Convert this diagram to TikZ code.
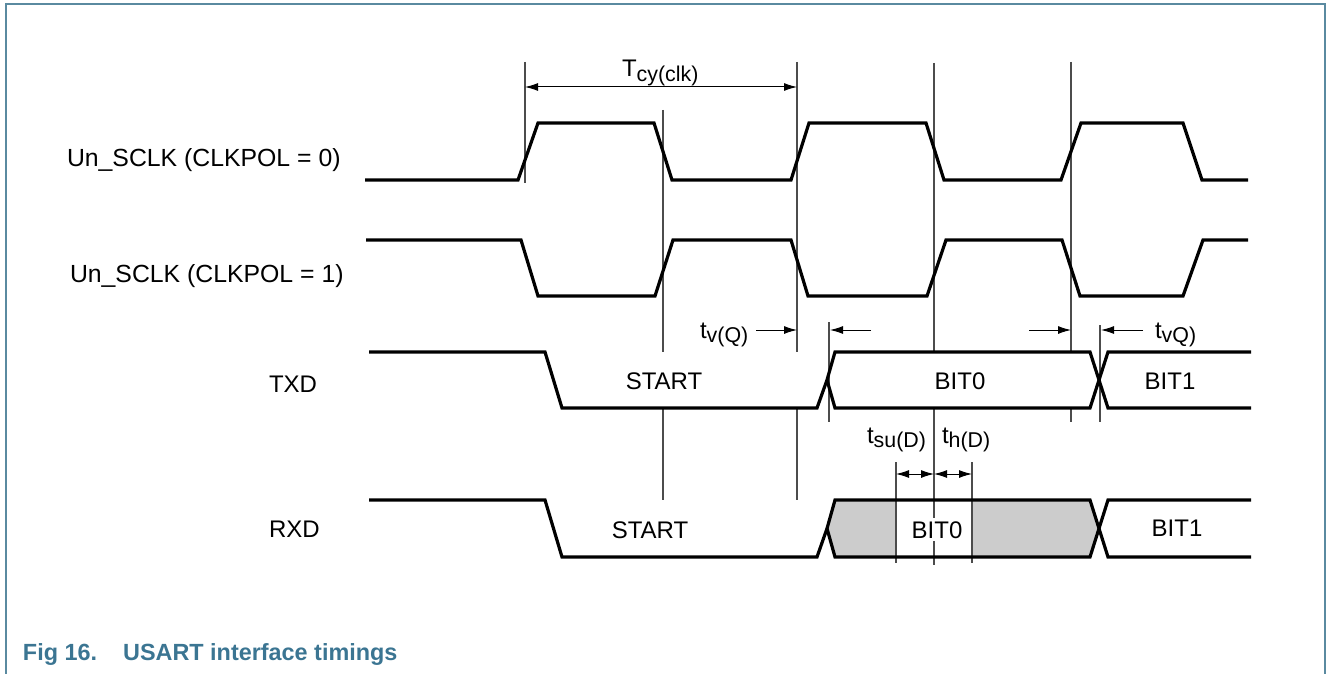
\documentclass[tikz,border=0pt]{standalone}
\usepackage{fontspec}
\setmainfont{Liberation Sans}
\usetikzlibrary{arrows.meta}
\definecolor{frameblue}{HTML}{5A8AA0}
\definecolor{capblue}{HTML}{3B7592}
\definecolor{rxdgray}{HTML}{CCCCCC}
\newcommand\sbs[1]{\raisebox{-0.2em}{\fontsize{10.7}{12}\selectfont #1}}
\tikzset{
  wave/.style={line width=1.6pt, black},
  guide/.style={line width=0.6pt, black!70},
  dim/.style={line width=0.5pt, black, -{Latex[length=6.5pt,width=4pt]}},
  dimboth/.style={line width=0.5pt, black, {Latex[length=6.5pt,width=4pt]}-{Latex[length=6.5pt,width=4pt]}},
  lbl/.style={inner sep=0pt, outer sep=0pt, anchor=base west, font=\fontsize{12}{14}\selectfont},
  lblc/.style={inner sep=0pt, outer sep=0pt, anchor=base, font=\fontsize{12}{14}\selectfont}
}
\begin{document}
\begin{tikzpicture}[x=0.5pt, y=-0.5pt]
\useasboundingbox (0,0) rectangle (1327,674);
% frame
\draw[frameblue, line width=1pt] (5.5,674) -- (5.5,4) -- (1325,4) -- (1325,674);

% RXD shaded region
\fill[rxdgray] (827,528.5) -- (835,500) -- (1090,500) -- (1099,528.5) -- (1090,557) -- (835,557) -- cycle;
\fill[white] (896,500) rectangle (972,557);

% guide lines
\draw[guide] (525,62) -- (525,183);
\draw[guide] (663,110) -- (663,352);
\draw[guide] (663,408) -- (663,500);
\draw[guide] (797,62) -- (797,352);
\draw[guide] (797,408) -- (797,500);
\draw[guide] (934,63) -- (934,352);
\draw[guide] (934,408) -- (934,565);
\draw[guide] (1071,62) -- (1071,352);
\draw[guide] (1071,408) -- (1071,422);
\draw[guide] (829,322) -- (829,422);
\draw[guide] (1100,325) -- (1100,422);
\draw[guide] (896,462) -- (896,563);
\draw[guide] (972,462) -- (972,563);

% clock CLKPOL = 0
\draw[wave] (365,180) -- (518,180) -- (538,123) -- (654,123) -- (672,180) -- (791,180) -- (809,123) -- (926,123) -- (944,180) -- (1061,180) -- (1081,123) -- (1183,123) -- (1202,180) -- (1248,180);
% clock CLKPOL = 1
\draw[wave] (366,240) -- (521,240) -- (538,296) -- (655,296) -- (673,240) -- (791,240) -- (808,296) -- (927,296) -- (946,240) -- (1062,240) -- (1080,296) -- (1183,296) -- (1203,240) -- (1248,240);

% TXD
\draw[wave] (369,352) -- (545,352) -- (562,408) -- (817,408) -- (827,380) -- (835,352) -- (1090,352) -- (1108,408) -- (1251,408);
\draw[wave] (827,380) -- (835,408) -- (1090,408) -- (1108,352) -- (1251,352);
% RXD
\draw[wave] (369,500) -- (545,500) -- (562,557) -- (817,557) -- (827,528.5) -- (835,500) -- (1090,500) -- (1108,557) -- (1251,557);
\draw[wave] (827,528.5) -- (835,557) -- (1090,557) -- (1108,500) -- (1251,500);

% dimension coordinates
\coordinate (tcyA) at (525,87);
\coordinate (tcyB) at (797,87);
\coordinate (tvA0) at (756,330);
\coordinate (tvA1) at (797,330);
\coordinate (tvB0) at (871,330);
\coordinate (tvB1) at (830,330);
\coordinate (tvC0) at (1029,330);
\coordinate (tvC1) at (1071,330);
\coordinate (tvD0) at (1143,330);
\coordinate (tvD1) at (1101,330);
\coordinate (suA) at (896,474);
\coordinate (suB) at (934,474);
\coordinate (hB) at (972,474);

\draw[dimboth] (tcyA) -- (tcyB);
\draw[dim] (tvA0) -- (tvA1);
\draw[dim] (tvB0) -- (tvB1);
\draw[dim] (tvC0) -- (tvC1);
\draw[dim] (tvD0) -- (tvD1);
\draw[dimboth] (suA) -- (suB);
\draw[dimboth] (suB) -- (hB);

% labels
\node[lbl, font=\fontsize{12.4}{14}\selectfont] (lclk0) at (67,166) {Un\_SCLK (CLKPOL = 0)};
\node[lbl, font=\fontsize{12.4}{14}\selectfont] (lclk1) at (70,282) {Un\_SCLK (CLKPOL = 1)};
\node[lbl] (ltxd) at (269,392) {TXD};
\node[lbl] (lrxd) at (269,537) {RXD};
\node[lblc] (tstart) at (664,389) {START};
\node[lblc] (rstart) at (650,538) {START};
\node[lblc] (tbit0) at (960,389) {BIT0};
\node[lblc, fill=white, inner sep=1.5pt] (rbit0) at (937,538) {BIT0};
\node[lblc] (tbit1) at (1170,389) {BIT1};
\node[lblc] (rbit1) at (1177,536) {BIT1};
\node[lbl] (ltcy) at (622,77) {T\sbs{cy(clk)}};
\node[lbl] (ltv1) at (700,338) {t\sbs{v(Q)}};
\node[lbl] (ltv2) at (1155,338) {t\sbs{vQ)}};
\node[lbl] (ltsu) at (867,443) {t\sbs{su(D)}};
\node[lbl] (lth) at (942,443) {t\sbs{h(D)}};
\node[lbl, text=capblue, font=\fontsize{11.7}{14}\selectfont\bfseries] (cap) at (23,660) {Fig 16.\hspace{13pt}USART interface timings};
\end{tikzpicture}
\end{document}
